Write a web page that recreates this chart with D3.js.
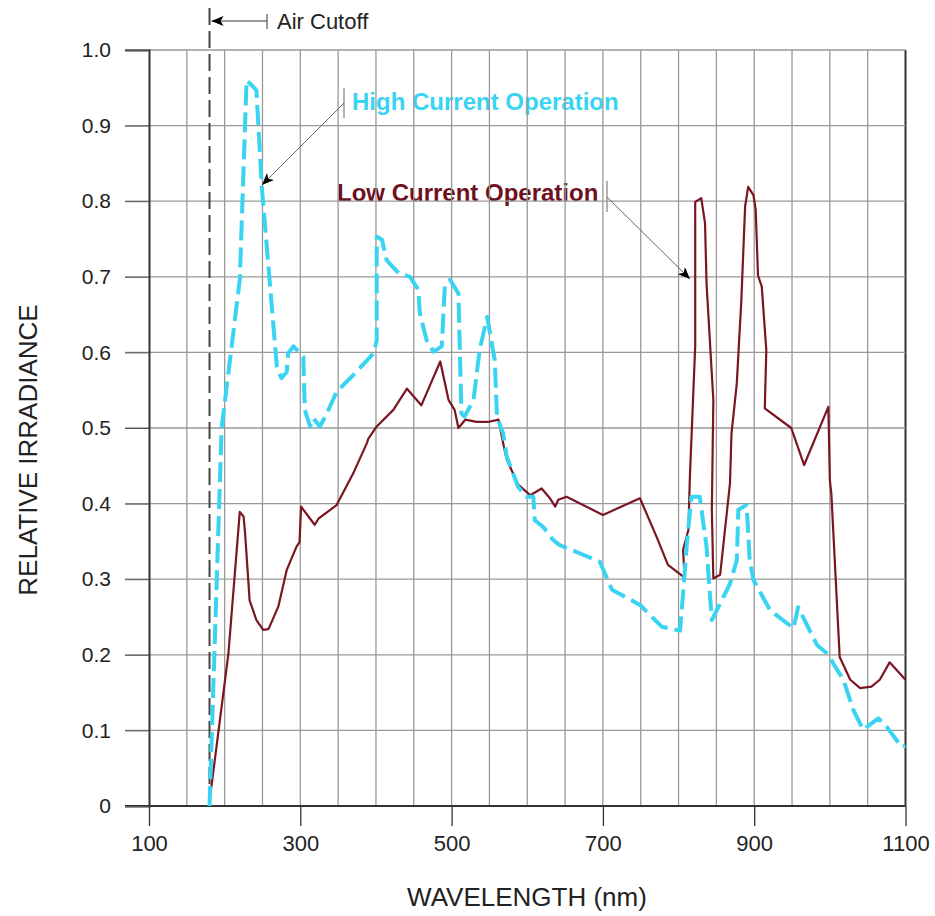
<!DOCTYPE html>
<html>
<head>
<meta charset="utf-8">
<script src="https://cdn.jsdelivr.net/npm/d3@7"></script>
<style>
body { margin: 0; background: #fff; }
text { font-family: "Liberation Sans", Arial, sans-serif; }
</style>
</head>
<body>
<svg class="chart" width="935" height="916"></svg>
<script>
// wavelength (nm), relative irradiance
var highNm = [180,196,220,229,242,249,269,275,282,284,291,304,306,313,317,326,335,348,370,397,401,401,408,414,430,445,456,458,467,476,487,491,498,509,513,517,529,537,547,557,560,568,573,588,599,608,610,621,634,643,670,696,712,749,762,778,802,806,811,817,828,837,842,844,855,868,877,879,890,894,899,921,952,958,983,996,1018,1031,1044,1064,1075,1095,1100];
var highVal = [0.0,0.50,0.696,0.96,0.947,0.82,0.581,0.566,0.574,0.599,0.608,0.594,0.524,0.502,0.513,0.502,0.519,0.548,0.570,0.599,0.616,0.753,0.749,0.722,0.705,0.700,0.683,0.652,0.616,0.601,0.608,0.687,0.696,0.678,0.519,0.515,0.537,0.603,0.647,0.590,0.515,0.493,0.462,0.422,0.409,0.409,0.378,0.369,0.352,0.345,0.334,0.323,0.286,0.266,0.253,0.237,0.232,0.281,0.347,0.409,0.409,0.343,0.272,0.246,0.268,0.294,0.325,0.392,0.398,0.325,0.299,0.259,0.235,0.263,0.213,0.202,0.167,0.127,0.101,0.116,0.105,0.078,0.08];

var lowNm = [180,205,220,225,227,233,242,251,258,271,282,295,299,301,319,324,348,370,388,390,401,423,441,460,485,496,504,509,518,533,548,562,570,573,588,604,619,630,637,641,652,700,749,771,786,808,806,813,815,822,822,830,835,837,846,844,846,855,868,870,877,883,888,892,899,902,905,910,916,914,949,966,998,1000,1002,1013,1027,1040,1055,1066,1079,1100];
var lowVal = [0.006,0.202,0.389,0.383,0.361,0.272,0.246,0.233,0.234,0.264,0.312,0.343,0.349,0.396,0.372,0.380,0.398,0.440,0.480,0.486,0.502,0.524,0.552,0.530,0.588,0.537,0.524,0.500,0.511,0.508,0.508,0.511,0.471,0.458,0.425,0.411,0.420,0.407,0.396,0.405,0.409,0.385,0.407,0.356,0.319,0.302,0.339,0.365,0.436,0.608,0.799,0.804,0.771,0.691,0.537,0.392,0.301,0.306,0.427,0.493,0.559,0.669,0.793,0.819,0.808,0.788,0.702,0.687,0.603,0.526,0.500,0.451,0.528,0.431,0.413,0.197,0.167,0.156,0.158,0.167,0.190,0.167];

var xTicks = [100,300,500,700,900,1100];
var xGrid = [150,200,250,300,350,400,450,500,550,600,650,700,750,800,850,900,950,1000,1050,1100];
var yTicks = [0,0.1,0.2,0.3,0.4,0.5,0.6,0.7,0.8,0.9,1.0];
var airCutoff = 180;

var x = d3.scaleLinear().domain([100, 1100]).range([149, 905.5]);
var y = d3.scaleLinear().domain([0, 1]).range([806, 50]);

var svg = d3.select('.chart');

var defs = svg.append('defs');
defs.append('marker')
    .attr('id', 'arr')
    .attr('viewBox', '0 0 12 10')
    .attr('refX', 12).attr('refY', 5)
    .attr('markerWidth', 12).attr('markerHeight', 10)
    .attr('markerUnits', 'userSpaceOnUse')
    .attr('orient', 'auto')
    .append('path')
    .attr('d', 'M0,0 L12,5 L0,10 L3,5 Z')
    .attr('fill', '#000');

// series labels sit under the grid, as in the original
svg.append('text')
    .attr('x', 352).attr('y', 110)
    .style('font-size', '24px').style('font-weight', 'bold')
    .attr('fill', '#38d4f2')
    .text('High Current Operation');

svg.append('text')
    .attr('x', 337).attr('y', 201)
    .style('font-size', '24px').style('font-weight', 'bold')
    .attr('fill', '#6e1020')
    .text('Low Current Operation');

// grid
svg.append('g').selectAll('line')
    .data(xGrid)
    .enter().append('line')
    .attr('x1', function(d) { return x(d); })
    .attr('x2', function(d) { return x(d); })
    .attr('y1', y(1)).attr('y2', y(0))
    .attr('stroke', d => d == 1100 ? '#333' : '#999')
    .attr('stroke-width', d => d == 1100 ? 2 : 1.3);

svg.append('g').selectAll('line')
    .data(yTicks)
    .enter().append('line')
    .attr('x1', 125).attr('x2', x(1100))
    .attr('y1', function(d) { return y(d); })
    .attr('y2', function(d) { return y(d); })
    .attr('stroke', function(d) { return d == 0 ? '#333' : '#999'; })
    .attr('stroke-width', function(d) { return d == 0 ? 2 : 1.3; });

// y axis
var yAxis = d3.axisLeft(y)
    .tickValues(yTicks)
    .tickSize(24)
    .tickPadding(14)
    .tickFormat(function(d) { return d == 0 ? '0' : d3.format('.1f')(d); });

var ya = svg.append('g')
    .attr('transform', 'translate(149,0)')
    .call(yAxis);
ya.select('.domain').attr('stroke', '#333').attr('stroke-width', 2);
ya.selectAll('.tick line').attr('stroke', '#555');
ya.selectAll('text').style('font-size', '21px').attr('fill', '#222');

// x axis
var xAxis = d3.axisBottom(x)
    .tickValues(xTicks)
    .tickSize(20)
    .tickPadding(9)
    .tickFormat(d3.format('d'));

var xa = svg.append('g')
    .attr('transform', 'translate(0,806)')
    .call(xAxis);
xa.select('.domain').remove();
xa.selectAll('.tick line').attr('stroke', '#333').attr('stroke-width', 1.3);
xa.selectAll('text').style('font-size', '22px').attr('fill', '#222');

// air cutoff
svg.append('line')
    .attr('x1', x(airCutoff)).attr('x2', x(airCutoff))
    .attr('y1', 8).attr('y2', y(0))
    .attr('stroke', '#444').attr('stroke-width', 2)
    .attr('stroke-dasharray', '17,6');

svg.append('line')
    .attr('x1', 267).attr('x2', x(airCutoff) + 2)
    .attr('y1', 21).attr('y2', 21)
    .attr('stroke', '#333').attr('stroke-width', 1)
    .attr('marker-end', 'url(#arr)');
svg.append('line')
    .attr('x1', 267).attr('x2', 267)
    .attr('y1', 14).attr('y2', 29)
    .attr('stroke', '#333').attr('stroke-width', 1);
svg.append('text')
    .attr('x', 277).attr('y', 29)
    .style('font-size', '22px')
    .attr('fill', '#222')
    .text('Air Cutoff');

var line = d3.line()
    .x(function(d) { return x(d[0]); })
    .y(function(d) { return y(d[1]); });

var high = d3.zip(highNm, highVal);
var low = d3.zip(lowNm, lowVal);

svg.append('path')
    .datum(low)
    .attr('d', line)
    .attr('fill', 'none')
    .attr('stroke', '#7a1622')
    .attr('stroke-width', 2.2)
    .attr('stroke-linejoin', 'round');

svg.append('path')
    .datum(high)
    .attr('d', line)
    .attr('fill', 'none')
    .attr('stroke', '#38d4f2')
    .attr('stroke-width', 4)
    .attr('stroke-dasharray', '20,7')
    .attr('stroke-linejoin', 'round');

// label pointers
svg.append('line')
    .attr('x1', 344).attr('x2', 344).attr('y1', 88).attr('y2', 118)
    .attr('stroke', '#999').attr('stroke-width', 1.5);
svg.append('line')
    .attr('x1', 344).attr('y1', 103).attr('x2', 262).attr('y2', 185)
    .attr('stroke', '#666').attr('stroke-width', 1)
    .attr('marker-end', 'url(#arr)');

svg.append('line')
    .attr('x1', 607).attr('x2', 607).attr('y1', 181).attr('y2', 212)
    .attr('stroke', '#999').attr('stroke-width', 1.5);
svg.append('line')
    .attr('x1', 607).attr('y1', 197).attr('x2', 690).attr('y2', 279)
    .attr('stroke', '#666').attr('stroke-width', 1)
    .attr('marker-end', 'url(#arr)');

// axis titles
svg.append('text')
    .attr('transform', 'translate(37,450) rotate(-90)')
    .attr('text-anchor', 'middle')
    .style('font-size', '26px')
    .attr('fill', '#222')
    .text('RELATIVE IRRADIANCE');

svg.append('text')
    .attr('x', 527).attr('y', 906)
    .attr('text-anchor', 'middle')
    .style('font-size', '26px')
    .attr('fill', '#222')
    .text('WAVELENGTH (nm)');
</script>
</body>
</html>
